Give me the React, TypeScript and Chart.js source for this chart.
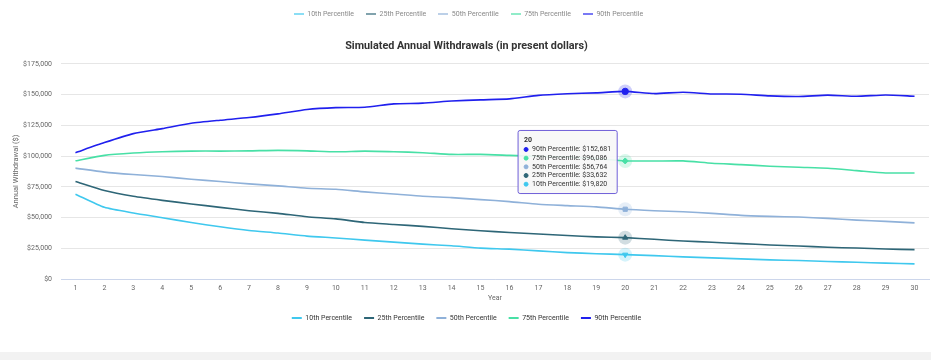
import React, { useEffect, useRef } from "react";
import { Chart, registerables, Tooltip } from "chart.js";

Chart.register(...registerables);

const years = Array.from({ length: 30 }, (_, i) => String(i + 1));
const seriesLabels = ["10th Percentile", "25th Percentile", "50th Percentile", "75th Percentile", "90th Percentile"];
const seriesColors = ["#3fc8ee", "#2e6677", "#8fb1d9", "#48e0a6", "#2020ee"];
const seriesShapes = ["triangle", "triangle", "rect", "rectRot", "circle"];
const seriesRotation = [180, 0, 0, 0, 0];

const p10 = [69000, 58300, 53700, 49900, 46000, 42500, 39500, 37400, 34900, 33400, 31600, 30000, 28400, 27000, 25100, 24300, 22900, 21500, 20600, 19820, 19000, 18000, 17200, 16400, 15600, 15000, 14200, 13600, 12900, 12300];
const p25 = [79300, 72000, 67300, 64000, 61100, 58300, 55600, 53400, 50700, 48900, 46000, 44400, 42800, 40900, 39300, 37900, 36600, 35400, 34300, 33632, 32300, 30900, 29900, 28800, 27700, 26900, 25800, 25200, 24400, 23900];
const p50 = [90200, 87000, 85000, 83400, 81200, 79300, 77400, 75800, 73900, 73000, 70900, 69200, 67300, 66200, 64600, 63000, 60800, 59700, 58700, 56764, 55600, 54700, 53400, 51800, 51000, 50400, 49300, 47900, 46900, 45700];
const p75 = [96200, 100600, 102500, 103600, 104100, 104100, 104300, 104700, 104300, 103500, 104100, 103600, 102800, 101400, 101400, 100600, 99800, 99200, 98000, 96086, 96000, 96100, 94200, 93100, 91800, 90900, 90100, 88200, 86300, 86300];
const p90 = [102800, 111000, 118300, 122400, 126700, 129200, 131400, 134400, 138000, 139500, 139800, 142500, 143100, 144800, 145800, 146600, 149400, 150700, 151500, 152681, 150900, 152000, 150600, 150400, 149000, 148500, 149600, 148700, 149800, 148700];
const seriesValues = [p10, p25, p50, p75, p90];

const yTicks = [0, 25000, 50000, 75000, 100000, 125000, 150000, 175000];
const activeIndex = 19;

const FONT = "Roboto, 'Open Sans', sans-serif";
const fmt = (v: number) => "$" + Math.round(v).toLocaleString("en-US");

function hexA(hex: string, a: number) {
  const n = parseInt(hex.slice(1), 16);
  return `rgba(${(n >> 16) & 255},${(n >> 8) & 255},${n & 255},${a})`;
}

const haloPlugin = {
  id: "halo",
  beforeDatasetsDraw(chart: any) {
    const active = chart.getActiveElements();
    const ctx = chart.ctx;
    ctx.save();
    active.forEach((a: any) => {
      const color = seriesColors[a.datasetIndex];
      ctx.beginPath();
      ctx.arc(a.element.x, a.element.y, 7, 0, Math.PI * 2);
      ctx.fillStyle = hexA(color, 0.22);
      ctx.fill();
    });
    ctx.restore();
  },
};

(Tooltip.positioners as any).fixedLeft = function (elements: any[]) {
  if (!elements.length) return false;
  return { x: elements[0].element.x, y: 162 };
};

export default function App() {
  const ref = useRef<HTMLCanvasElement>(null);

  useEffect(() => {
    document.body.style.margin = "0";
    const canvas = ref.current!;
    const chart = new Chart(canvas, {
      type: "line",
      data: {
        labels: years,
        datasets: seriesLabels.map((label, i) => ({
          label,
          data: seriesValues[i],
          borderColor: seriesColors[i],
          backgroundColor: seriesColors[i],
          borderWidth: 1.6,
          tension: 0.2,
          pointRadius: 0,
          pointHoverRadius: i === 4 ? 3.2 : 3,
          pointHoverBorderWidth: 1,
          pointHoverBackgroundColor: seriesColors[i],
          pointHoverBorderColor: seriesColors[i],
          pointStyle: seriesShapes[i] as any,
          pointRotation: seriesRotation[i],
          pointHitRadius: 0,
        })),
      },
      options: {
        responsive: false,
        animation: false,
        events: [],
        layout: { padding: { top: 39.5, left: 4, right: 2, bottom: 20.5 } },
        interaction: { mode: "index", intersect: false },
        scales: {
          x: {
            offset: true,
            grid: { display: false, drawTicks: false },
            border: { display: true, color: "#ccd6eb", width: 1 },
            ticks: { color: "#666", font: { family: FONT, size: 7 }, padding: 5, maxRotation: 0, autoSkip: false },
            title: { display: true, text: "Year", color: "#666", font: { family: FONT, size: 7 }, padding: { top: 0, bottom: 0 } },
            afterFit: (scale: any) => {
              scale.height = 23.5;
            },
          },
          y: {
            min: 0,
            max: 175000,
            afterBuildTicks: (axis: any) => {
              axis.ticks = yTicks.map((v) => ({ value: v }));
            },
            afterFit: (scale: any) => {
              scale.width = 57;
            },
            grid: { color: "#e6e6e6", drawTicks: false },
            border: { display: false },
            ticks: { color: "#666", font: { family: FONT, size: 7 }, padding: 9, callback: (v: any) => fmt(Number(v)) },
            title: { display: true, text: "Annual Withdrawal ($)", color: "#666", font: { family: FONT, size: 7.5 }, padding: { top: 7.2, bottom: 0 } },
          },
        },
        plugins: {
          title: {
            display: true,
            text: "Simulated Annual Withdrawals (in present dollars)",
            color: "#333",
            font: { family: FONT, size: 10.8, weight: "bold" },
            padding: { top: 0.5, bottom: 11 },
          },
          legend: {
            position: "bottom",
            labels: {
              boxWidth: 10,
              boxHeight: 2,
              padding: 12,
              color: "#333",
              font: { family: FONT, size: 7 },
              generateLabels: (chart: any) =>
                Chart.defaults.plugins.legend.labels.generateLabels(chart).map((it: any) => ({ ...it, lineWidth: 0 })),
            },
          },
          tooltip: {
            enabled: true,
            position: "fixedLeft" as any,
            xAlign: "right",
            yAlign: "center",
            caretSize: 0,
            caretPadding: 8,
            backgroundColor: "rgba(247,247,247,0.92)",
            borderColor: "#6f5fd8",
            borderWidth: 1,
            cornerRadius: 2,
            padding: { top: 5, bottom: 5, left: 6, right: 6 },
            titleColor: "#333",
            bodyColor: "#333",
            titleFont: { family: FONT, size: 7, weight: "bold", lineHeight: 1.24 },
            bodyFont: { family: FONT, size: 7, lineHeight: 1.24 },
            titleMarginBottom: 1,
            bodySpacing: 0,
            usePointStyle: true,
            boxWidth: 4,
            boxHeight: 4,
            boxPadding: 2,
            itemSort: (a: any, b: any) => b.datasetIndex - a.datasetIndex,
            callbacks: {
              label: (c: any) => `${c.dataset.label}: ${fmt(c.parsed.y)}`,
              labelPointStyle: () => ({ pointStyle: "circle", rotation: 0 }),
              labelColor: (c: any) => ({ borderColor: seriesColors[c.datasetIndex], backgroundColor: seriesColors[c.datasetIndex] }),
            },
          },
        },
      },
      plugins: [haloPlugin],
    } as any);

    const active = seriesLabels.map((_, i) => ({ datasetIndex: i, index: activeIndex }));
    chart.setActiveElements(active);
    const el = chart.getDatasetMeta(0).data[activeIndex] as any;
    chart.tooltip!.setActiveElements(active, { x: el.x, y: el.y });
    chart.update();

    return () => chart.destroy();
  }, []);

  return (
    <div style={{ width: 931, height: 360, background: "#f2f2f2", fontFamily: FONT }}>
      <div style={{ position: "relative", width: 931, height: 352, background: "#fff" }}>
        <div
          style={{
            position: "absolute",
            top: 9,
            left: 3,
            width: 931,
            display: "flex",
            justifyContent: "center",
            gap: 12,
            opacity: 0.6,
            fontSize: 7,
            color: "#333",
            lineHeight: "10px",
          }}
        >
          {seriesLabels.map((l, i) => (
            <div key={l} style={{ display: "flex", alignItems: "center" }}>
              <span style={{ display: "inline-block", width: 10, height: 2, background: seriesColors[i], marginRight: 3.5 }} />
              <span>{l}</span>
            </div>
          ))}
        </div>
        <canvas ref={ref} width={931} height={352} style={{ display: "block" }} />
      </div>
    </div>
  );
}
